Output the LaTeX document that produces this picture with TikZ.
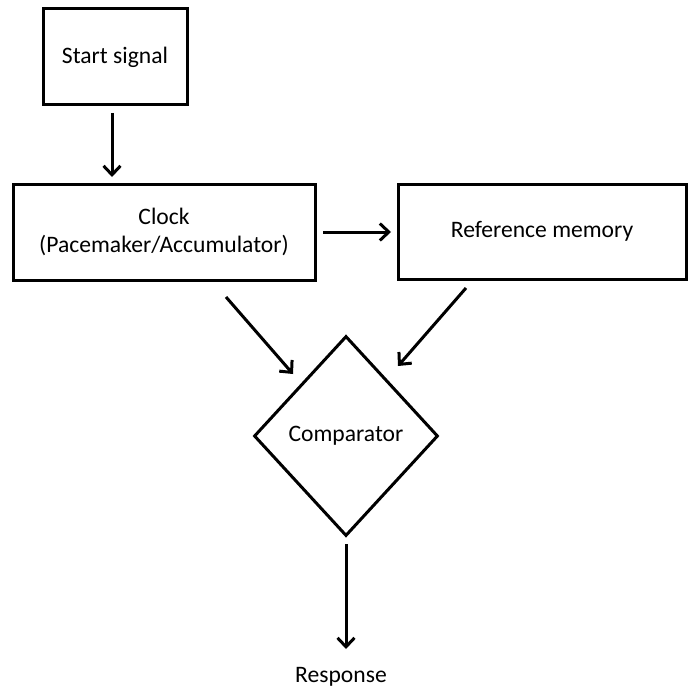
\documentclass[tikz,border=0pt]{standalone}
\usepackage{fontspec}
\setmainfont{Carlito}
\usetikzlibrary{shapes.geometric,arrows.meta}
\begin{document}
\begin{tikzpicture}[x=1pt,y=-1pt,
  box/.style={draw,line width=3pt,inner sep=0pt,align=center,font=\fontsize{23.6}{28}\selectfont},
  lbl/.style={inner sep=0pt,font=\fontsize{23.6}{28}\selectfont},
  arr/.style={line width=3pt,-{Straight Barb[length=9pt,width=17pt,line width=3pt]}}]
\useasboundingbox (0,0) rectangle (688,690);
\node[box,minimum width=144pt,minimum height=96pt] (start) at (115,57) {Start signal};
\node[box,minimum width=302pt,minimum height=96pt] (clock) at (164,232) {Clock\\(Pacemaker/Accumulator)};
\node[box,minimum width=288pt,minimum height=95pt] (ref) at (542,231.5) {Reference memory};
\node[box,diamond,minimum width=184pt,minimum height=200pt] (comp) at (346,436) {Comparator};
\node[lbl] (resp) at (341,677) {Response};
\coordinate (a1s) at (112,113); \coordinate (a1e) at (112,177);
\coordinate (a2s) at (323,232); \coordinate (a2e) at (391,232);
\coordinate (a3s) at (226,297); \coordinate (a3e) at (293,374);
\coordinate (a4s) at (466,288); \coordinate (a4e) at (398,366);
\coordinate (a5s) at (346,544); \coordinate (a5e) at (346,649);
\draw[arr] (a1s) -- (a1e);
\draw[arr] (a2s) -- (a2e);
\draw[arr] (a3s) -- (a3e);
\draw[arr] (a4s) -- (a4e);
\draw[arr] (a5s) -- (a5e);
\end{tikzpicture}
\end{document}
